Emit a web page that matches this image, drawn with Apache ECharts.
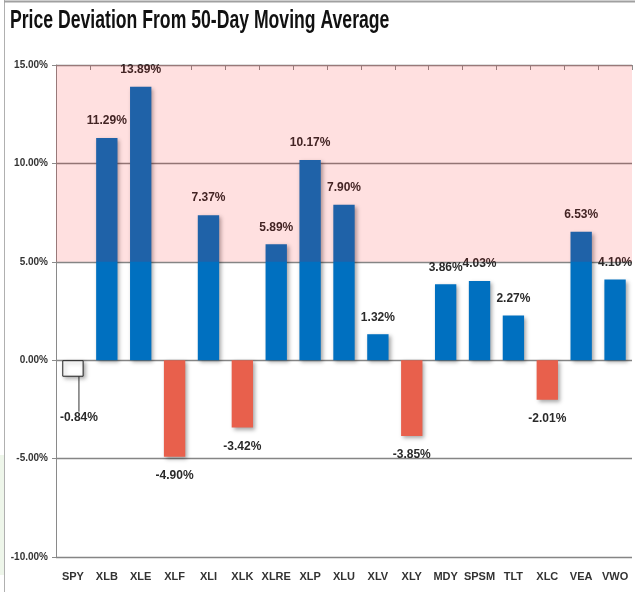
<!DOCTYPE html>
<html>
<head>
<meta charset="utf-8">
<script src="https://cdn.jsdelivr.net/npm/echarts@6/dist/echarts.min.js"></script>
<style>
    html, body { margin: 0; padding: 0; background: #fff; }
    #chart { width: 635px; height: 592px; }
</style>
</head>
<body>
<div id="chart"></div>
<script>
// tickers and their % deviation from the 50-day moving average
const tickers = ['SPY', 'XLB', 'XLE', 'XLF', 'XLI', 'XLK', 'XLRE', 'XLP', 'XLU', 'XLV', 'XLY', 'MDY', 'SPSM', 'TLT', 'XLC', 'VEA', 'VWO'];
const deviation = [-0.84, 11.29, 13.89, -4.90, 7.37, -3.42, 5.89, 10.17, 7.90, 1.32, -3.85, 3.86, 4.03, 2.27, -2.01, 6.53, 4.10];
// shaded "overextended" zone
const bandFrom = 5;
const bandTo = 15;

const FONT = "'Liberation Sans', Arial, sans-serif";
const BLUE = '#0070C0';
const RED = '#E8604C';

const chart = echarts.init(document.getElementById('chart'));

const barData = deviation.map((v, i) => {
    const item = {
        value: v,
        itemStyle: { color: v >= 0 ? BLUE : RED },
        label: { position: v >= 0 ? 'top' : 'bottom', distance: v >= 0 ? 11 : 13 }
    };
    if (i === 0) {
        // SPY drawn as hollow box with a leader line to its label
        item.itemStyle = { color: '#fff', borderColor: '#222', borderWidth: 1 };
        item.labelLine = { show: true, lineStyle: { color: '#333', width: 1 } };
    }
    return item;
});

const option = {
    animation: false,
    backgroundColor: '#fff',
    graphic: [
        { type: 'rect', shape: { x: 0, y: 455, width: 4, height: 120 }, style: { fill: '#eef6ea' } },
        { type: 'line', shape: { x1: 4.5, y1: 0, x2: 4.5, y2: 592 }, style: { stroke: '#b0b0b0', lineWidth: 1 } },
        { type: 'line', shape: { x1: 4, y1: 1.5, x2: 635, y2: 1.5 }, style: { stroke: '#a0a0a0', lineWidth: 2 } },
        {
            // title, squeezed horizontally like the condensed original
            type: 'text',
            x: 10,
            y: 21,
            scaleX: 0.705,
            style: {
                text: 'Price Deviation From 50-Day Moving Average',
                font: 'bold 25px ' + FONT,
                fill: '#111',
                textVerticalAlign: 'middle'
            }
        }
    ],
    grid: { left: 56, right: 3, top: 65, bottom: 35 },
    xAxis: [
        {
            type: 'category',
            data: tickers,
            position: 'bottom',
            axisLine: { show: false },
            axisTick: { show: false },
            axisLabel: { interval: 0, fontFamily: FONT, fontSize: 11, fontWeight: 'bold', color: '#333', margin: 14 }
        },
        {
            type: 'category',
            data: tickers,
            position: 'top',
            axisLine: { onZero: true, lineStyle: { color: '#8a8a8a', width: 1 } },
            axisTick: { show: true, inside: true, interval: 0, length: 5, lineStyle: { color: '#8a8a8a' } },
            axisLabel: { show: false }
        }
    ],
    yAxis: {
        type: 'value',
        min: -10,
        max: 15,
        interval: 5,
        axisLine: { show: true, lineStyle: { color: '#8a8a8a' } },
        axisTick: { show: true, length: 4, lineStyle: { color: '#8a8a8a' } },
        axisLabel: {
            fontFamily: FONT, fontSize: 10, fontWeight: 'bold', color: '#333', margin: 8,
            formatter: v => v.toFixed(2) + '%'
        },
        splitLine: { show: true, lineStyle: { color: '#858585', width: 1.3 } }
    },
    series: [
        {
            type: 'bar',
            xAxisIndex: 0,
            barWidth: '63%',
            data: barData,
            itemStyle: {
                shadowColor: 'rgba(0,0,0,0.35)',
                shadowBlur: 4,
                shadowOffsetX: 2,
                shadowOffsetY: 2
            },
            label: {
                show: true,
                fontFamily: FONT,
                fontSize: 12,
                fontWeight: 'bold',
                color: '#2a2a2a',
                formatter: p => p.value.toFixed(2) + '%'
            },
            labelLayout: p => (p.dataIndex === 0 ? { dx: 6, dy: 22 } : {}),
            markArea: {
                silent: true,
                z: 10,
                itemStyle: { color: 'rgba(255,0,0,0.12)' },
                data: [[{ yAxis: bandFrom }, { yAxis: bandTo }]]
            }
        }
    ]
};

chart.setOption(option);
</script>
</body>
</html>
